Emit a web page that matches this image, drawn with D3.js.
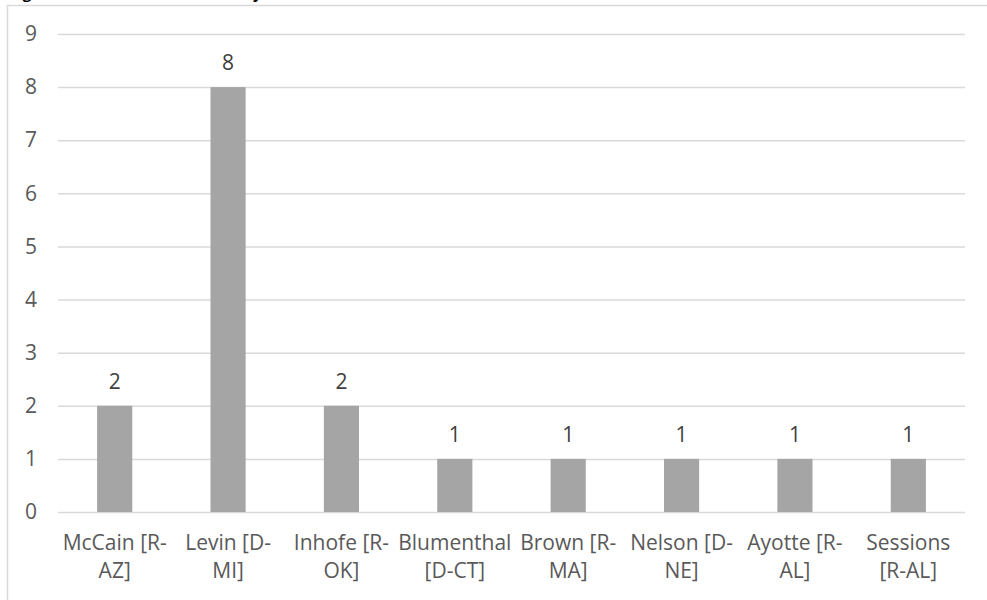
<!DOCTYPE html>
<html>
<head>
<meta charset="utf-8">
<script src="https://cdn.jsdelivr.net/npm/d3@7"></script>
<style>
  html, body { margin: 0; padding: 0; background: #ffffff; }
  svg { display: block; }
</style>
</head>
<body>
<svg id="chart" width="987" height="600"></svg>
<script>
const title = "Figure 1: Amendments Offered by";
const categoryLines = [
  ["McCain [R-", "AZ]"],
  ["Levin [D-", "MI]"],
  ["Inhofe [R-", "OK]"],
  ["Blumenthal", "[D-CT]"],
  ["Brown [R-", "MA]"],
  ["Nelson [D-", "NE]"],
  ["Ayotte [R-", "AL]"],
  ["Sessions", "[R-AL]"]
];
const categories = categoryLines.map(l => l.join(" ").replace("- ", "-"));
const values = [2, 8, 2, 1, 1, 1, 1, 1];
const yTicks = [0, 1, 2, 3, 4, 5, 6, 7, 8, 9];

(function () {
const svg = d3.select("#chart");
const font = "'Open Sans', 'Noto Sans', sans-serif";
const textColor = "#595959";
const fs = 21;

// chart border
svg.append("rect")
  .attr("x", 7.5).attr("y", 5.5)
  .attr("width", 1000).attr("height", 700)
  .attr("fill", "#ffffff")
  .attr("stroke", "#d9d9d9").attr("stroke-width", 1.5);

// title (cut off at top edge, as in the reference)
svg.append("text")
  .attr("x", 10).attr("y", -1)
  .attr("font-family", font).attr("font-weight", "bold")
  .attr("font-size", 15).attr("fill", "#000")
  .text(title);

const mLeft = 58, mRight = 965, mTop = 34, mBottom = 512;

const x = d3.scaleBand()
  .domain(categories)
  .range([mLeft, mRight])
  .paddingInner(0.69)
  .paddingOuter(0.345);

const y = d3.scaleLinear().domain([0, 9]).range([mBottom, mTop]);

// y axis with gridlines
const yAxis = svg.append("g")
  .attr("transform", `translate(${mLeft},0)`)
  .call(d3.axisLeft(y).tickValues(yTicks).tickSize(-(mRight - mLeft)).tickPadding(21).tickFormat(d3.format("d")));
yAxis.select(".domain").remove();
yAxis.selectAll(".tick line").attr("stroke", "#d9d9d9").attr("stroke-width", 1.5);
yAxis.selectAll(".tick text")
  .attr("font-family", font).attr("font-size", fs).attr("fill", textColor);

// bars
svg.append("g").selectAll("rect")
  .data(values)
  .join("rect")
  .attr("x", (d, i) => x(categories[i]))
  .attr("y", d => y(d))
  .attr("width", x.bandwidth())
  .attr("height", d => y(0) - y(d))
  .attr("fill", "#a5a5a5");

// data labels
svg.append("g").selectAll("text")
  .data(values)
  .join("text")
  .attr("x", (d, i) => x(categories[i]) + x.bandwidth() / 2)
  .attr("y", d => y(d) - 17)
  .attr("text-anchor", "middle")
  .attr("font-family", font).attr("font-size", fs).attr("fill", "#404040")
  .text(d => d);

// x axis labels
const xAxis = svg.append("g")
  .attr("transform", `translate(0,${mBottom})`)
  .call(d3.axisBottom(x).tickSize(0).tickFormat(""));
xAxis.select(".domain").remove();
xAxis.selectAll(".tick").each(function(d, i) {
  const t = d3.select(this).append("text")
    .attr("text-anchor", "middle")
    .attr("font-family", font).attr("font-size", fs).attr("fill", textColor);
  categoryLines[i].forEach((line, j) => {
    t.append("tspan").attr("x", 0).attr("y", 38 + j * 28).text(line);
  });
});
})();
</script>
</body>
</html>
